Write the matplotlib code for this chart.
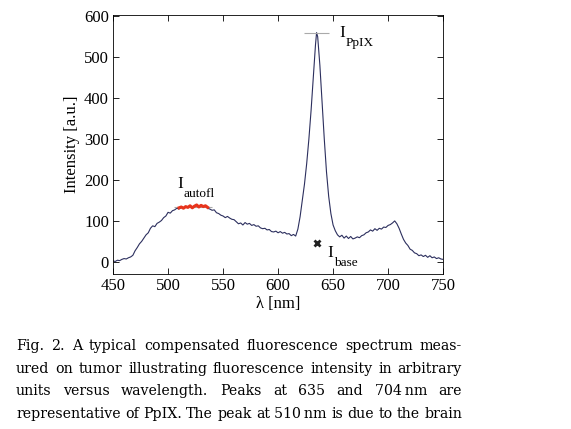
import matplotlib
matplotlib.use("Agg")
import matplotlib.pyplot as plt

plt.rcParams['font.family'] = ['Liberation Serif', 'DejaVu Serif']

wl_left = list(range(450, 617, 2))
int_left = [2, 1, 4, 3, 6, 8, 7, 10, 12, 16,
            27, 35, 44, 50, 58, 66, 71, 82, 88, 86,
            94, 97, 101, 108, 112, 121, 119, 125, 127, 131,
            129, 133, 131, 135, 133, 136, 133, 137, 139, 135,
            138, 134, 136, 131, 129, 126, 127, 120, 118, 114,
            112, 108, 111, 107, 104, 103, 98, 93, 95, 90,
            96, 92, 94, 89, 91, 87, 88, 83, 81, 82,
            78, 79, 74, 73, 75, 71, 74, 70, 72, 68,
            69, 64, 67, 63]
wl_peak = [618, 620, 622, 624, 626, 628, 630, 632, 634, 635, 636, 638, 640, 642, 644, 646]
int_peak = [80, 110, 150, 190, 240, 300, 370, 450, 530, 560, 550, 480, 390, 300, 220, 160]
wl_right = list(range(648, 751, 2))
int_right = [118, 90, 76, 66, 61, 65, 58, 63, 57, 62,
             56, 58, 61, 59, 64, 66, 71, 73, 78, 75,
             81, 77, 82, 80, 85, 84, 89, 91, 95, 100,
             93, 82, 68, 55, 46, 40, 31, 28, 22, 20,
             15, 17, 13, 16, 11, 15, 10, 12, 8, 10,
             7, 6]
wavelength = wl_left + wl_peak + wl_right
intensity = int_left + int_peak + int_right

# autofluorescence window (red)
wl_autofl = [510, 512, 514, 516, 518, 520, 522, 524, 526, 528, 530, 532, 534, 536]
int_autofl = [132, 134, 131, 135, 133, 137, 132, 136, 139, 134, 138, 135, 137, 133]

autofl_level = 134
autofl_span = (505, 540)
ppix_level = 560
ppix_span = (624, 646)
base_point = (635, 45)

caption_lines = [
    "Fig. 2. A typical compensated fluorescence spectrum meas-",
    "ured on tumor illustrating fluorescence intensity in arbitrary",
    "units versus wavelength. Peaks at 635 and 704\u2009nm are",
    "representative of PpIX. The peak at 510\u2009nm is due to the brain",
]

fig = plt.figure(figsize=(5.71, 4.29), dpi=100)
ax = fig.add_axes([0.198, 0.361, 0.578, 0.604])

line_col = '#2c2f5e'
ax.plot(wavelength, intensity, color=line_col, lw=0.8)
ax.hlines(autofl_level, *autofl_span, color='#aaaaaa', lw=0.8)
ax.hlines(ppix_level, *ppix_span, color='#aaaaaa', lw=0.8)
ax.plot(wl_autofl, int_autofl, color='#e8341c', lw=2.2)
ax.plot(*base_point, marker='x', color='#222222', ms=5, mew=2)


# "I" with a low-hanging subscript
def label(x, y, sub):
    ax.text(x, y, 'I', fontsize=12.5, va='baseline')
    ax.annotate(sub, (x, y), xytext=(4.5, -6.5), textcoords='offset points',
                fontsize=9.5, va='baseline')


label(508, 181, 'autofl')
label(656, 549, 'PpIX')
label(645, 12, 'base')

ax.set_xlim(450, 750)
ax.set_ylim(-30, 603)
ax.set_xticks([450, 500, 550, 600, 650, 700, 750])
ax.set_yticks([0, 100, 200, 300, 400, 500, 600])
ax.tick_params(direction='in', top=True, right=True, labelsize=12, length=4, width=0.6, pad=3)
for s in ax.spines.values():
    s.set_linewidth(0.6)
ax.set_xlabel('\u03bb [nm]', fontsize=12, labelpad=1)
ax.set_ylabel('Intensity [a.u.]', fontsize=12, labelpad=3)

# justified caption
W, H = 571, 429
left_px, right_px = 16, 462
baselines = [350, 373, 395, 418]
renderer = fig.canvas.get_renderer()
for k, line in enumerate(caption_lines):
    words = line.split(' ')
    texts = [fig.text(0, 1 - baselines[k] / H, w, fontsize=10.2, va='baseline',
                      family='DejaVu Serif') for w in words]
    widths = [t.get_window_extent(renderer).width for t in texts]
    gap = (right_px - left_px - sum(widths)) / (len(words) - 1)
    x = left_px
    for t, w in zip(texts, widths):
        t.set_x(x / W)
        x += w + gap

fig.savefig('out.png', dpi=100)
